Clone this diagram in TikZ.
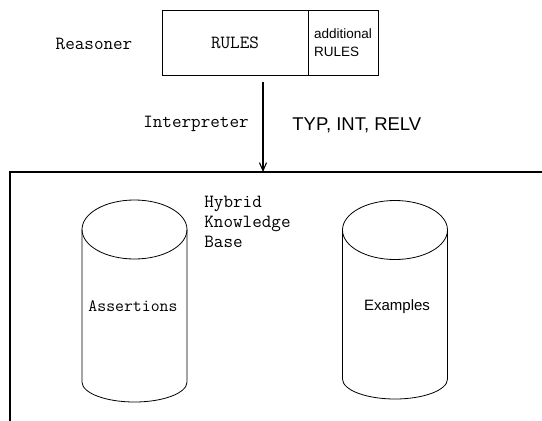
\documentclass[tikz,border=0pt]{standalone}
\usepackage{fontspec}
\setsansfont{Liberation Sans}
\usetikzlibrary{positioning,arrows.meta}
\tikzset{
  tt/.style={font=\ttfamily\fontsize{#1}{20}\selectfont,inner sep=0pt},
  tt/.default=18.6,
  sf/.style={font=\sffamily\fontsize{#1}{18}\selectfont,inner sep=0pt},
  sf/.default=15,
  box/.style={draw,minimum height=65pt,outer sep=0pt,inner sep=0pt},
}
\begin{document}
\begin{tikzpicture}[x=1pt,y=1pt,line width=0.8pt]
	\useasboundingbox (0,0) rectangle (542,-421);
	\clip (0,0) rectangle (542,-421);
	\path
	(263,-82) coordinate (I)
	(10,-172) coordinate (K)
	(263,-172) coordinate (KT)
	;
	% reasoner
	\node[box,tt,minimum width=146pt] (rules) at (235,-42.5) {RULES};
	\node[box,sf=13.5,minimum width=70pt,align=left,right=0pt of rules] (addrules) {additional\\RULES};
	\node[tt] (reasoner) at (94,-44) {Reasoner};
	% interpreter
	\node[tt] (interp) at (196,-124) {Interpreter};
	\node[sf=18.5,anchor=west] (typ) at (292,-125) {TYP, INT, RELV};
	\draw[line width=1.1pt,-{Straight Barb[length=8pt,width=7pt]}] (I) -- (KT);
	% knowledge base
	\draw[line width=1.2pt] (10,-430) -- (K) -- (550,-172);
	\node[tt,align=left,anchor=west] (hkb) at (204,-222) {Hybrid\\Knowledge\\Base};
	\draw (134.5,-229.5) ellipse (52.5 and 29.5);
	\draw (82,-229.5) -- (82,-382) arc (180:360:52.5 and 20) -- (187,-229.5);
	\draw (395,-230) ellipse (52.5 and 29.5);
	\draw (342.5,-230) -- (342.5,-379) arc (180:360:52.5 and 20) -- (447.5,-230);
	\node[tt=17.3] (assert) at (133,-306) {Assertions};
	\node[sf] (examples) at (397,-307) {Examples};
\end{tikzpicture}
\end{document}
